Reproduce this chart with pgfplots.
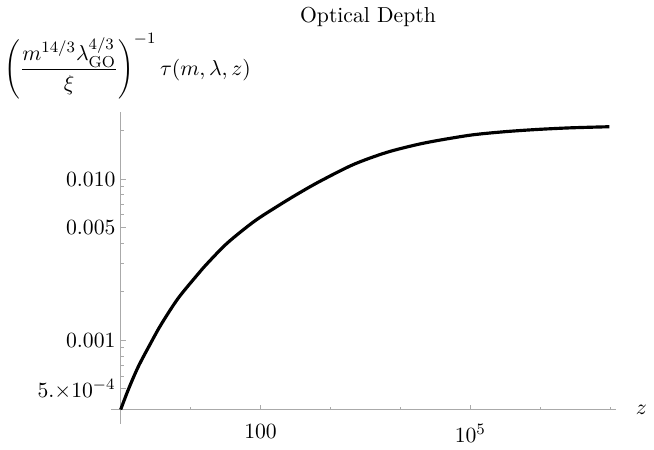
\documentclass[11pt,border=0pt]{standalone}
\usepackage{pgfplots}
\pgfplotsset{compat=1.18}
\definecolor{axisgray}{RGB}{170,170,170}

\begin{document}
\begin{tikzpicture}
\begin{axis}[
  at={(0,0)}, anchor=south west,
  scale only axis,
  width=250.5pt, height=150.5pt,
  xmode=log, ymode=log,
  xmin=1, xmax=1.22e7,
  ymin=3.72e-4, ymax=0.0261,
  axis lines*=left,
  clip=false,
  axis line style={axisgray, line width=0.5pt},
  x axis line style={shorten <=-5pt},
  y axis line style={shorten <=-7pt},
  tick style={axisgray, line width=0.5pt},
  tick align=inside,
  major tick length=2.6pt,
  minor tick length=1.5pt,
  xtick={100,1e5},
  xticklabels={$100$,$10^5$},
  minor xtick={10,1000,1e4,1e6,1e7},
  ytick={5e-4,1e-3,5e-3,1e-2},
  yticklabels={$5.{\times}10^{-4}$,$0.001$,$0.005$,$0.010$},
  minor ytick={4e-4,6e-4,7e-4,8e-4,9e-4,2e-3,3e-3,4e-3,6e-3,7e-3,8e-3,9e-3,2e-2},
  x tick label style={yshift=-3.5pt},
  y tick label style={xshift=1.2pt},
  xlabel={$z$},
  x label style={at={(rel axis cs:1,0)}, anchor=west, xshift=6pt},
]
\addplot[black, line width=1.6pt, smooth] coordinates {
(1,3.724e-4) (1.297,5.00e-4) (1.799,6.92e-4) (2.742,9.77e-4) (3.802,1.259e-3)
(6.607,1.820e-3) (12.68,2.570e-3) (17.58,3.020e-3) (33.73,4.027e-3) (81.1,5.470e-3)
(171.8,6.761e-3) (329.6,8.035e-3) (696.6,9.661e-3) (2109,1.230e-2) (6180,1.459e-2)
(16410,1.629e-2) (34670,1.738e-2) (105000,1.879e-2) (307600,1.968e-2) (901500,2.032e-2)
(2729000,2.080e-2) (9705000,2.113e-2)
};
\end{axis}
\node[anchor=west, inner sep=0pt] at (-59pt,173.5pt)
  {$\left(\displaystyle\frac{m^{14/3}\lambda_{\mathrm{GO}}^{4/3}}{\xi}\right)^{-1}\tau(m,\lambda,z)$};
\node at (125pt,198.5pt) {Optical Depth};
\path[use as bounding box] (-61pt,-19pt) rectangle (266pt,207pt);
\end{tikzpicture}
\end{document}
